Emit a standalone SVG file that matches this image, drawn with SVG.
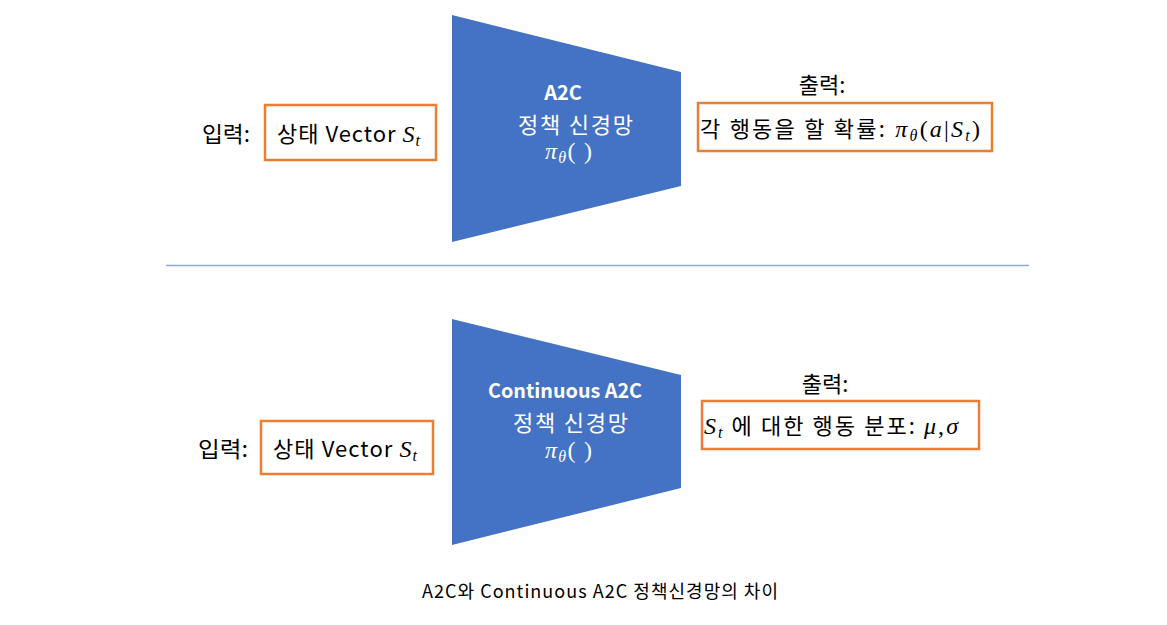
<svg xmlns="http://www.w3.org/2000/svg" width="1167" height="625" viewBox="0 0 1167 625">
<style>
.t{font-family:"Noto Sans CJK KR","Noto Sans",sans-serif;font-size:22px;fill:#000}
.w{font-family:"Noto Sans CJK KR","Noto Sans",sans-serif;font-size:22px;fill:#fff}
.b{font-weight:bold;font-size:20px}
.m{font-family:"Liberation Serif","DejaVu Serif",serif;font-style:italic}
.u{font-family:"Liberation Serif","DejaVu Serif",serif;font-style:normal}
.box{fill:#fff;stroke:#ed7d31;stroke-width:2.5}
.trap{fill:#4472c4}
</style>
<rect width="1167" height="625" fill="#fff"/>
<g id="connectors">
<line x1="166" y1="265.5" x2="1029" y2="265.5" stroke="#8faadc" stroke-width="1.5"/>
</g>
<g id="top-input">
<text class="t" x="202" y="142" textLength="48" lengthAdjust="spacingAndGlyphs">입력:</text>
<rect class="box" x="265" y="105" width="171" height="55"/>
<text class="t" x="277" y="142" textLength="143" lengthAdjust="spacing">상태 Vector <tspan class="m" font-size="24">S</tspan><tspan class="m" font-size="16" dy="4">t</tspan></text>
</g>
<g id="top-net">
<polygon class="trap" points="452,15 681,72 681,186 452,242"/>
<text class="w b" x="563" y="100" text-anchor="middle">A2C</text>
<text class="w" x="518" y="133" textLength="115" lengthAdjust="spacing">정책 신경망</text>
<text class="w" x="545" y="159" textLength="47" lengthAdjust="spacing"><tspan class="m" font-size="24">π</tspan><tspan class="m" font-size="16" dy="4">θ</tspan><tspan class="u" font-size="24" dy="-4">( )</tspan></text>
</g>
<g id="top-output">
<text class="t" x="822" y="93" text-anchor="middle">출력:</text>
<rect class="box" x="698" y="103" width="294" height="48"/>
<text class="t" x="700" y="137" textLength="280" lengthAdjust="spacing">각 행동을 할 확률:<tspan class="m" font-size="24"> π</tspan><tspan class="m" font-size="16" dy="4">θ</tspan><tspan class="u" font-size="24" dy="-4">(</tspan><tspan class="m" font-size="24">a</tspan><tspan class="u" font-size="24">|</tspan><tspan class="m" font-size="24">S</tspan><tspan class="m" font-size="16" dy="4">t</tspan><tspan class="u" font-size="24" dy="-4">)</tspan></text>
</g>
<g id="bottom-input">
<text class="t" x="198" y="457" textLength="50" lengthAdjust="spacingAndGlyphs">입력:</text>
<rect class="box" x="261" y="421" width="172" height="53"/>
<text class="t" x="273" y="457" textLength="144" lengthAdjust="spacing">상태 Vector <tspan class="m" font-size="24">S</tspan><tspan class="m" font-size="16" dy="4">t</tspan></text>
</g>
<g id="bottom-net">
<polygon class="trap" points="452,319 681,375 681,488 452,545"/>
<text class="w b" x="565" y="398" text-anchor="middle" textLength="154" lengthAdjust="spacingAndGlyphs">Continuous A2C</text>
<text class="w" x="513" y="431" textLength="115" lengthAdjust="spacing">정책 신경망</text>
<text class="w" x="545" y="458" textLength="47" lengthAdjust="spacing"><tspan class="m" font-size="24">π</tspan><tspan class="m" font-size="16" dy="4">θ</tspan><tspan class="u" font-size="24" dy="-4">( )</tspan></text>
</g>
<g id="bottom-output">
<text class="t" x="825" y="392" text-anchor="middle">출력:</text>
<rect class="box" x="702" y="401" width="277" height="48"/>
<text class="t" x="704" y="434" textLength="254" lengthAdjust="spacing"><tspan class="m" font-size="24">S</tspan><tspan class="m" font-size="16" dy="4">t</tspan><tspan dy="-4"> 에 대한 행동 분포: </tspan><tspan class="m" font-size="24">μ</tspan><tspan class="u" font-size="24">,</tspan><tspan class="m" font-size="24">σ</tspan></text>
</g>
<g id="caption">
<text x="422" y="598" textLength="356" lengthAdjust="spacing" font-family="Noto Sans CJK KR, Noto Sans, sans-serif" font-size="18" fill="#000">A2C와 Continuous A2C 정책신경망의 차이</text>
</g>
</svg>
